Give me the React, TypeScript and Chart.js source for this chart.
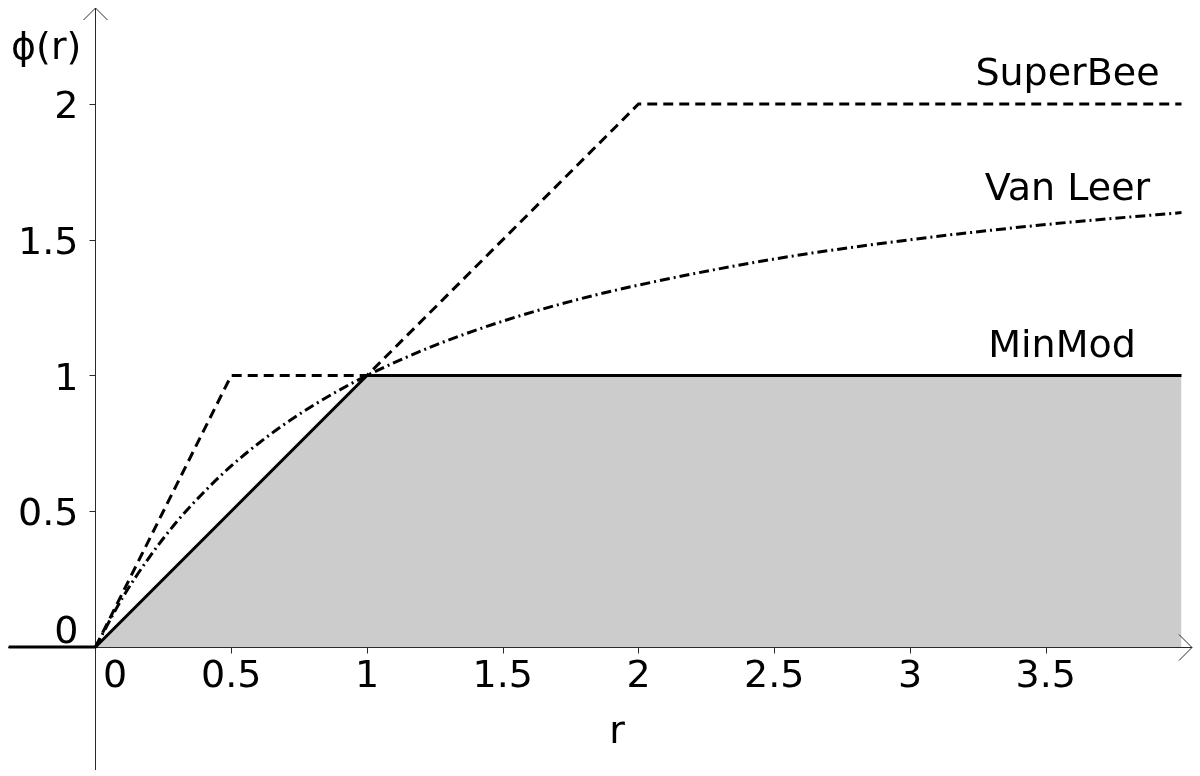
import React, { useEffect, useRef } from "react";
import { Chart, registerables } from "chart.js";

Chart.register(...registerables);

// ---- data ----
const superBeeR = [0, 0.5, 1, 2, 4];
const superBeePhi = [0, 1, 1, 2, 2];

const vanLeerR = [0, 0.1, 0.2, 0.3, 0.4, 0.5, 0.625, 0.75, 0.875, 1, 1.25, 1.5, 1.75, 2, 2.5, 3, 3.5, 4];
const vanLeerPhi = [0, 0.182, 0.333, 0.462, 0.571, 0.667, 0.769, 0.857, 0.933, 1, 1.111, 1.2, 1.273, 1.333, 1.429, 1.5, 1.556, 1.6];

const minModR = [-0.32, 0, 1, 4];
const minModPhi = [0, 0, 1, 1];

const xTickValues = [0, 0.5, 1, 1.5, 2, 2.5, 3, 3.5];
const xTickLabels = ["0", "0.5", "1", "1.5", "2", "2.5", "3", "3.5"];
const yTickValues = [0, 0.5, 1, 1.5, 2];
const yTickLabels = ["0", "0.5", "1", "1.5", "2"];

const seriesNames = ["SuperBee", "Van Leer", "MinMod"];
const seriesLabelAnchorR = [3.58, 3.58, 3.56];
const seriesLabelAnchorPhi = [2, 1.564, 1];

const xTitle = "r";
const yTitle = "\u03D5(r)";

const FONT = '38px "DejaVu Sans"';

function pts(xs: number[], ys: number[]) {
  return xs.map((x, i) => ({ x, y: ys[i] }));
}

const axesPlugin = {
  id: "customAxes",
  beforeDatasetsDraw(chart: any) {
    const ctx = chart.ctx;
    const xs = chart.scales.x;
    const ys = chart.scales.y;
    const x0 = Math.round(xs.getPixelForValue(0)) + 0.5;
    const y0 = Math.round(ys.getPixelForValue(0)) + 0.5;
    ctx.save();
    ctx.strokeStyle = "#2a2a2a";
    ctx.lineWidth = 1;
    ctx.beginPath();
    // y axis
    ctx.moveTo(x0, 8);
    ctx.lineTo(x0, 770);
    // x axis
    ctx.moveTo(8, y0);
    ctx.lineTo(1192, y0);
    // arrows
    ctx.moveTo(x0 - 12, 20);
    ctx.lineTo(x0, 8);
    ctx.lineTo(x0 + 12, 20);
    ctx.moveTo(1179, y0 - 13);
    ctx.lineTo(1192, y0);
    ctx.lineTo(1179, y0 + 13);
    // ticks
    xTickValues.forEach((v) => {
      if (v === 0) return;
      const px = Math.round(xs.getPixelForValue(v)) + 0.5;
      ctx.moveTo(px, y0);
      ctx.lineTo(px, y0 + 6);
    });
    yTickValues.forEach((v) => {
      if (v === 0) return;
      const py = Math.round(ys.getPixelForValue(v)) + 0.5;
      ctx.moveTo(x0, py);
      ctx.lineTo(x0 - 6, py);
    });
    ctx.stroke();
    ctx.restore();
  },
  afterDraw(chart: any) {
    const ctx = chart.ctx;
    const xs = chart.scales.x;
    const ys = chart.scales.y;
    const x0 = xs.getPixelForValue(0);
    const y0 = ys.getPixelForValue(0);
    ctx.save();
    ctx.fillStyle = "#000";
    ctx.font = FONT;
    ctx.textBaseline = "alphabetic";
    // x tick labels
    ctx.textAlign = "center";
    xTickValues.forEach((v, i) => {
      let px = xs.getPixelForValue(v);
      if (v === 0) px = x0 + 19.5;
      ctx.fillText(xTickLabels[i], px, y0 + 40);
    });
    // y tick labels
    ctx.textAlign = "right";
    yTickValues.forEach((v, i) => {
      let py = ys.getPixelForValue(v) + 14;
      if (v === 0) py = y0 - 4;
      ctx.fillText(yTickLabels[i], x0 - 17, py);
    });
    // axis titles
    ctx.textAlign = "center";
    ctx.fillText(xTitle, 617, y0 + 96);
    ctx.textAlign = "left";
    ctx.fillText(yTitle, 11, 59);
    // series labels
    ctx.textAlign = "center";
    seriesNames.forEach((name, i) => {
      const px = xs.getPixelForValue(seriesLabelAnchorR[i]);
      const py = ys.getPixelForValue(seriesLabelAnchorPhi[i]);
      const off = i === 1 ? 22 : 19;
      ctx.fillText(name, px, py - off);
    });
    ctx.restore();
  },
};

export default function App() {
  const ref = useRef<HTMLCanvasElement | null>(null);
  useEffect(() => {
    if (!ref.current) return;
    const unit = 271.5;
    const chart = new Chart(ref.current, {
      type: "line",
      data: {
        datasets: [
          {
            label: seriesNames[0],
            data: pts(superBeeR, superBeePhi),
            borderColor: "#000",
            borderWidth: 3,
            borderDash: [10, 6],
            pointRadius: 0,
            fill: false,
            tension: 0,
            order: 1,
          },
          {
            label: seriesNames[1],
            data: pts(vanLeerR, vanLeerPhi),
            borderColor: "#000",
            borderWidth: 3,
            borderDash: [10, 4, 2, 4],
            pointRadius: 0,
            fill: false,
            cubicInterpolationMode: "monotone",
            order: 2,
          },
          {
            label: seriesNames[2],
            data: pts(minModR, minModPhi),
            borderColor: "#000",
            borderWidth: 3,
            pointRadius: 0,
            fill: "origin",
            backgroundColor: "#cccccc",
            tension: 0,
            order: 3,
          },
        ],
      },
      options: {
        animation: false,
        responsive: false,
        devicePixelRatio: 1,
        layout: { padding: 0 },
        parsing: false,
        scales: {
          x: {
            type: "linear",
            display: false,
            min: -95.5 / unit,
            max: (1200 - 95.5) / unit,
          },
          y: {
            type: "linear",
            display: false,
            min: -(776 - 647) / unit,
            max: 647 / unit,
          },
        },
        plugins: {
          legend: { display: false },
          tooltip: { enabled: false },
          filler: { drawTime: "beforeDatasetsDraw" },
        },
      } as any,
      plugins: [axesPlugin],
    });
    return () => chart.destroy();
  }, []);
  return (
    <div style={{ position: "fixed", left: 0, top: 0, width: 1200, height: 776, background: "#fff" }}>
      <canvas ref={ref} width={1200} height={776} style={{ display: "block" }} />
    </div>
  );
}
